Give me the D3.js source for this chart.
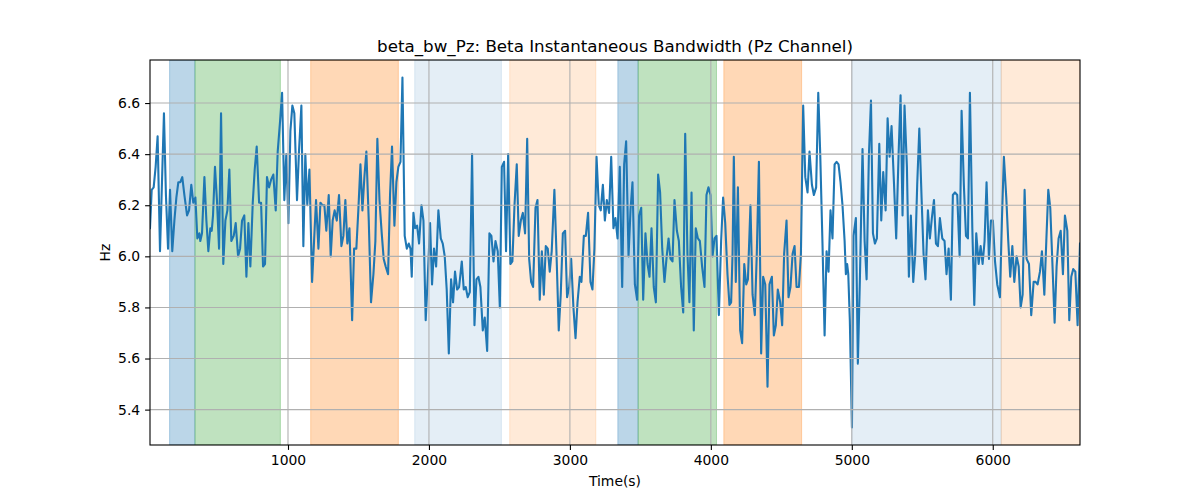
<!DOCTYPE html>
<html>
<head>
<meta charset="utf-8">
<script src="https://cdn.jsdelivr.net/npm/d3@7"></script>
<style>
  html, body { margin: 0; padding: 0; background: #fff; }
  svg { display: block; font-family: "DejaVu Sans", sans-serif; }
</style>
</head>
<body>
<svg id="chart" width="1200" height="500"></svg>
<script>
// ---- data: [time (s), bandwidth (Hz)] ----
const samples = [
  [21,6.11],[33,6.26],[47,6.27],[61,6.35],[75,6.47],[92,6.02],[106,6.29],[120,6.56],[134,6.24],[149,6.03],
  [163,6.26],[179,6.02],[194,6.14],[208,6.23],[222,6.29],[236,6.29],[250,6.31],[265,6.24],[284,6.16],[298,6.18],
  [314,6.28],[328,6.21],[343,6.23],[357,6.07],[371,6.09],[378,6.06],[390,6.09],[407,6.31],[421,6.14],[435,6.02],
  [449,6.11],[459,6.10],[468,6.16],[482,6.35],[496,6.22],[511,6.03],[525,6.56],[541,5.97],[556,6.14],[570,6.18],
  [584,6.34],[598,6.06],[615,6.08],[629,6.13],[646,6.00],[660,6.03],[674,6.14],[690,6.16],[705,5.92],[719,6.13],
  [733,5.96],[750,6.21],[764,6.34],[778,6.43],[795,6.21],[809,6.21],[823,5.96],[837,5.97],[851,6.31],[866,6.27],
  [880,6.30],[896,6.32],[913,6.18],[927,6.41],[944,6.53],[958,6.64],
  [974,6.22],[988,6.40],[1003,6.13],[1017,6.49],[1031,6.59],[1045,6.56],[1064,6.22],[1078,6.41],[1095,6.59],[1109,6.04],
  [1123,6.40],[1137,6.20],[1152,6.34],[1171,5.90],[1185,6.06],[1199,6.22],[1216,6.03],[1230,6.21],[1244,6.20],[1258,6.20],
  [1272,6.10],[1289,6.24],[1303,6.00],[1317,6.14],[1331,6.18],[1346,6.14],[1362,6.24],[1379,6.04],[1393,6.08],[1407,6.22],
  [1421,6.05],[1436,6.11],[1455,5.75],[1469,6.03],[1485,6.03],[1499,6.18],[1514,6.36],[1528,6.18],[1542,6.31],[1556,6.41],
  [1573,6.14],[1589,5.82],[1606,5.93],[1620,6.06],[1634,6.46],[1649,6.22],[1665,6.09],[1679,5.99],[1693,5.96],[1710,5.93],
  [1724,6.24],[1738,6.43],[1755,6.12],[1769,6.29],[1783,6.35],[1798,6.37],[1812,6.70],[1828,6.08],[1843,6.03],[1857,6.05],
  [1869,6.03],[1878,5.92],
  [1890,6.17],[1902,6.11],[1916,6.12],[1930,6.05],[1947,6.20],[1961,6.14],[1977,5.75],[1991,5.91],[2008,6.13],[2022,5.89],
  [2036,6.03],[2051,5.96],[2067,6.18],[2084,6.07],[2098,6.05],[2112,6.00],[2126,5.87],[2141,5.62],[2157,5.91],[2171,5.82],
  [2185,5.94],[2200,5.87],[2214,5.88],[2233,5.98],[2247,5.87],[2261,5.88],[2275,5.84],[2290,5.86],[2306,6.40],[2323,5.73],
  [2337,5.91],[2351,5.92],[2365,5.88],[2382,5.71],[2396,5.76],[2413,5.63],[2429,6.09],[2443,6.08],[2458,5.98],[2472,6.06],
  [2488,6.02],[2503,5.80],[2517,6.35],[2533,6.37],[2547,6.02],[2562,6.40],[2578,5.97],[2592,5.98],[2607,6.20],[2623,6.36],
  [2637,6.08],[2652,6.14],[2666,6.17],[2682,6.09],[2697,6.46],[2711,5.99],[2725,5.90],[2739,5.88],[2756,6.19],[2770,6.22],
  [2786,5.83],[2801,6.02],[2815,5.85],
  [2829,6.04],[2843,6.03],[2857,5.94],[2871,6.02],[2890,6.26],[2905,6.01],[2921,5.71],[2935,5.85],[2950,6.09],[2966,6.10],
  [2980,5.84],[2995,5.88],[3009,5.99],[3025,5.80],[3040,5.68],[3054,5.82],[3070,5.92],[3082,5.90],[3099,6.08],[3113,6.08],
  [3129,6.17],[3146,5.90],[3160,5.87],[3174,6.03],[3189,6.39],[3205,6.20],[3219,6.18],[3234,6.28],[3248,6.14],[3262,6.22],
  [3278,6.17],[3293,6.39],[3309,6.11],[3323,6.15],[3338,6.07],[3354,6.35],[3371,5.88],[3385,6.36],[3399,6.45],[3416,6.00],
  [3430,6.18],[3444,6.29],[3461,5.89],[3477,5.83],[3491,6.16],[3506,6.19],[3520,5.83],[3536,6.09],[3551,5.97],[3565,5.92],
  [3579,6.11],[3595,5.88],[3610,5.82],[3626,6.32],[3640,6.25],[3655,6.03],[3671,5.90],[3685,5.99],[3700,6.07],[3714,5.99],
  [3728,5.98],[3742,6.22],[3759,6.10],[3773,6.06],
  [3789,5.88],[3804,5.78],[3818,6.48],[3834,6.01],[3848,5.82],[3863,6.25],[3879,5.71],[3893,6.11],[3908,6.07],[3922,6.06],
  [3938,5.96],[3955,5.88],[3969,6.24],[3983,6.27],[3998,6.24],[4012,6.00],[4026,6.07],[4040,6.08],[4057,5.77],[4073,6.06],
  [4087,6.23],[4102,6.13],[4118,5.93],[4132,5.81],[4144,5.82],[4154,6.01],[4163,6.39],[4177,5.90],[4192,6.27],[4208,5.71],
  [4222,5.66],[4237,5.97],[4251,5.89],[4263,5.91],[4281,6.20],[4296,5.85],[4312,5.77],[4326,6.01],[4341,6.37],[4357,5.62],
  [4371,5.92],[4386,5.89],[4402,5.49],[4416,5.89],[4433,5.92],[4447,5.69],[4461,5.73],[4475,5.87],[4492,5.82],[4506,5.73],
  [4520,6.01],[4537,6.14],[4551,5.84],[4565,5.88],[4580,6.01],[4594,6.04],[4608,5.88],[4625,5.88],[4639,6.01],[4655,6.59],
  [4670,6.31],[4686,6.25],[4700,6.41],
  [4717,6.28],[4731,6.24],[4747,6.27],[4762,6.64],[4776,6.40],[4792,6.05],[4807,5.69],[4821,6.02],[4835,5.94],[4849,6.18],
  [4863,6.07],[4878,6.36],[4892,6.37],[4906,6.36],[4920,6.29],[4934,6.20],[4949,6.06],[4958,5.93],[4967,5.97],[4975,5.93],
  [4986,5.75],[5001,5.33],[5012,6.08],[5029,6.15],[5043,5.58],[5057,5.90],[5076,6.42],[5091,6.06],[5105,5.91],[5121,6.39],
  [5136,6.61],[5150,6.09],[5164,6.05],[5178,6.07],[5195,6.44],[5209,6.14],[5223,6.33],[5240,6.18],[5254,6.54],[5268,6.39],
  [5282,6.51],[5299,6.29],[5315,6.07],[5332,6.40],[5346,6.63],[5360,6.16],[5374,6.59],[5391,6.35],[5405,5.92],[5419,6.16],
  [5436,5.90],[5450,6.01],[5464,6.28],[5479,6.50],[5495,6.23],[5509,6.01],[5523,5.91],[5540,6.18],[5554,6.07],[5568,6.15],
  [5583,6.22],[5597,6.05],[5611,6.04],[5625,6.15],[5642,6.07],
  [5658,6.06],[5672,5.93],[5687,6.03],[5703,5.83],[5717,6.24],[5732,6.25],[5748,6.24],[5765,6.00],[5779,6.57],[5795,6.28],
  [5810,6.08],[5824,6.07],[5838,6.64],[5855,6.11],[5869,5.81],[5883,6.09],[5900,5.97],[5914,6.04],[5928,5.97],[5942,6.06],
  [5956,6.29],[5973,5.99],[5987,6.14],[6001,6.14],[6016,5.98],[6032,5.89],[6051,5.84],[6065,6.14],[6079,6.39],[6096,6.23],
  [6110,6.06],[6124,5.92],[6139,6.04],[6153,5.90],[6169,6.00],[6184,5.96],[6198,5.80],[6212,5.85],[6226,6.26],[6240,5.99],
  [6257,5.97],[6273,5.77],[6290,5.90],[6304,5.90],[6318,5.89],[6335,5.94],[6349,6.02],[6366,5.85],[6380,6.06],[6394,6.26],
  [6408,6.19],[6422,5.99],[6439,5.74],[6453,5.96],[6467,6.07],[6482,6.10],[6498,5.93],[6512,6.16],[6529,6.10],[6543,5.75],
  [6557,5.92],[6571,5.95],[6586,5.94],[6602,5.73],[6619,6.05]
];

// ---- shaded segments: [start (s), end (s), kind] ----
const segments = [
  [160, 340, "blue"],
  [340, 946, "green"],
  [1161, 1783, "orange"],
  [1899, 2514, "lightblue"],
  [2573, 3184, "lightorange"],
  [3340, 3484, "blue"],
  [3484, 4040, "green"],
  [4092, 4644, "orange"],
  [5000, 6060, "lightblue"],
  [6060, 6619, "lightorange"]
];

const xTicks = [1000, 2000, 3000, 4000, 5000, 6000];
const yTicks = [5.4, 5.6, 5.8, 6.0, 6.2, 6.4, 6.6];

const titleText = "beta_bw_Pz: Beta Instantaneous Bandwidth (Pz Channel)";
const xLabelText = "Time(s)";
const yLabelText = "Hz";

// ---- styles ----
const segStyle = {
  blue:        { color: "#1f77b4", alpha: 0.3 },
  green:       { color: "#2ca02c", alpha: 0.3 },
  orange:      { color: "#ff7f0e", alpha: 0.3 },
  lightblue:   { color: "#1f77b4", alpha: 0.12 },
  lightorange: { color: "#ff7f0e", alpha: 0.16 }
};

const margin = { left: 150, right: 120, top: 60, bottom: 55 };
const W = 1200, H = 500;
const iw = W - margin.left - margin.right;
const ih = H - margin.top - margin.bottom;

const svg = d3.select("#chart");
const g = svg.append("g").attr("transform", `translate(${margin.left},${margin.top})`);

const tExt = d3.extent(samples, d => d[0]);
const vExt = d3.extent(samples, d => d[1]);
const pad = (vExt[1] - vExt[0]) * 0.05;

const x = d3.scaleLinear().domain(tExt).range([0, iw]);
const y = d3.scaleLinear().domain([vExt[0] - pad, vExt[1] + pad]).range([ih, 0]);

// clip
svg.append("defs").append("clipPath").attr("id", "clip")
  .append("rect").attr("width", iw).attr("height", ih);

const plot = g.append("g").attr("clip-path", "url(#clip)");

// bands
plot.selectAll("rect.seg").data(segments).join("rect")
  .attr("class", "seg")
  .attr("x", d => x(d[0]))
  .attr("width", d => x(d[1]) - x(d[0]))
  .attr("y", 0)
  .attr("height", ih)
  .attr("fill", d => segStyle[d[2]].color)
  .attr("fill-opacity", d => segStyle[d[2]].alpha)
  .attr("stroke", d => segStyle[d[2]].color)
  .attr("stroke-opacity", d => segStyle[d[2]].alpha)
  .attr("stroke-width", 1);

// grid
const grid = g.append("g");
grid.selectAll("line.gx").data(xTicks).join("line")
  .attr("x1", d => x(d)).attr("x2", d => x(d))
  .attr("y1", 0).attr("y2", ih)
  .attr("stroke", "#b0b0b0").attr("stroke-width", 1.1);
grid.selectAll("line.gy").data(yTicks).join("line")
  .attr("y1", d => y(d)).attr("y2", d => y(d))
  .attr("x1", 0).attr("x2", iw)
  .attr("stroke", "#b0b0b0").attr("stroke-width", 1.1);

// line
const line = d3.line().x(d => x(d[0])).y(d => y(d[1]));
plot.append("path")
  .datum(samples)
  .attr("d", line)
  .attr("fill", "none")
  .attr("stroke", "#1f77b4")
  .attr("stroke-width", 2.1)
  .attr("stroke-linejoin", "round")
  .attr("stroke-linecap", "square");

// axes
const fontPx = 13.9;
const xAxis = d3.axisBottom(x).tickValues(xTicks).tickFormat(d3.format("d"))
  .tickSizeInner(4.9).tickSizeOuter(0).tickPadding(4.9);
const yAxis = d3.axisLeft(y).tickValues(yTicks).tickFormat(d3.format(".1f"))
  .tickSizeInner(4.9).tickSizeOuter(0).tickPadding(4.9);

const gx = g.append("g").attr("transform", `translate(0,${ih})`).call(xAxis);
const gy = g.append("g").call(yAxis);
[gx, gy].forEach(a => {
  a.select(".domain").remove();
  a.selectAll(".tick line").attr("stroke", "#000").attr("stroke-width", 1.1);
  a.selectAll(".tick text").attr("fill", "#000").style("font-size", fontPx + "px")
    .style("font-family", "'DejaVu Sans', sans-serif");
});

// frame
g.append("rect").attr("width", iw).attr("height", ih)
  .attr("fill", "none").attr("stroke", "#000").attr("stroke-width", 1.1);

// labels
svg.append("text").attr("x", margin.left + iw / 2).attr("y", 52)
  .attr("text-anchor", "middle").style("font-size", "16.7px").attr("fill", "#000")
  .text(titleText);
svg.append("text").attr("x", margin.left + iw / 2).attr("y", 486)
  .attr("text-anchor", "middle").style("font-size", fontPx + "px").attr("fill", "#000")
  .text(xLabelText);
svg.append("text")
  .attr("transform", `translate(110,${margin.top + ih / 2}) rotate(-90)`)
  .attr("text-anchor", "middle").style("font-size", fontPx + "px").attr("fill", "#000")
  .text(yLabelText);
</script>
</body>
</html>
